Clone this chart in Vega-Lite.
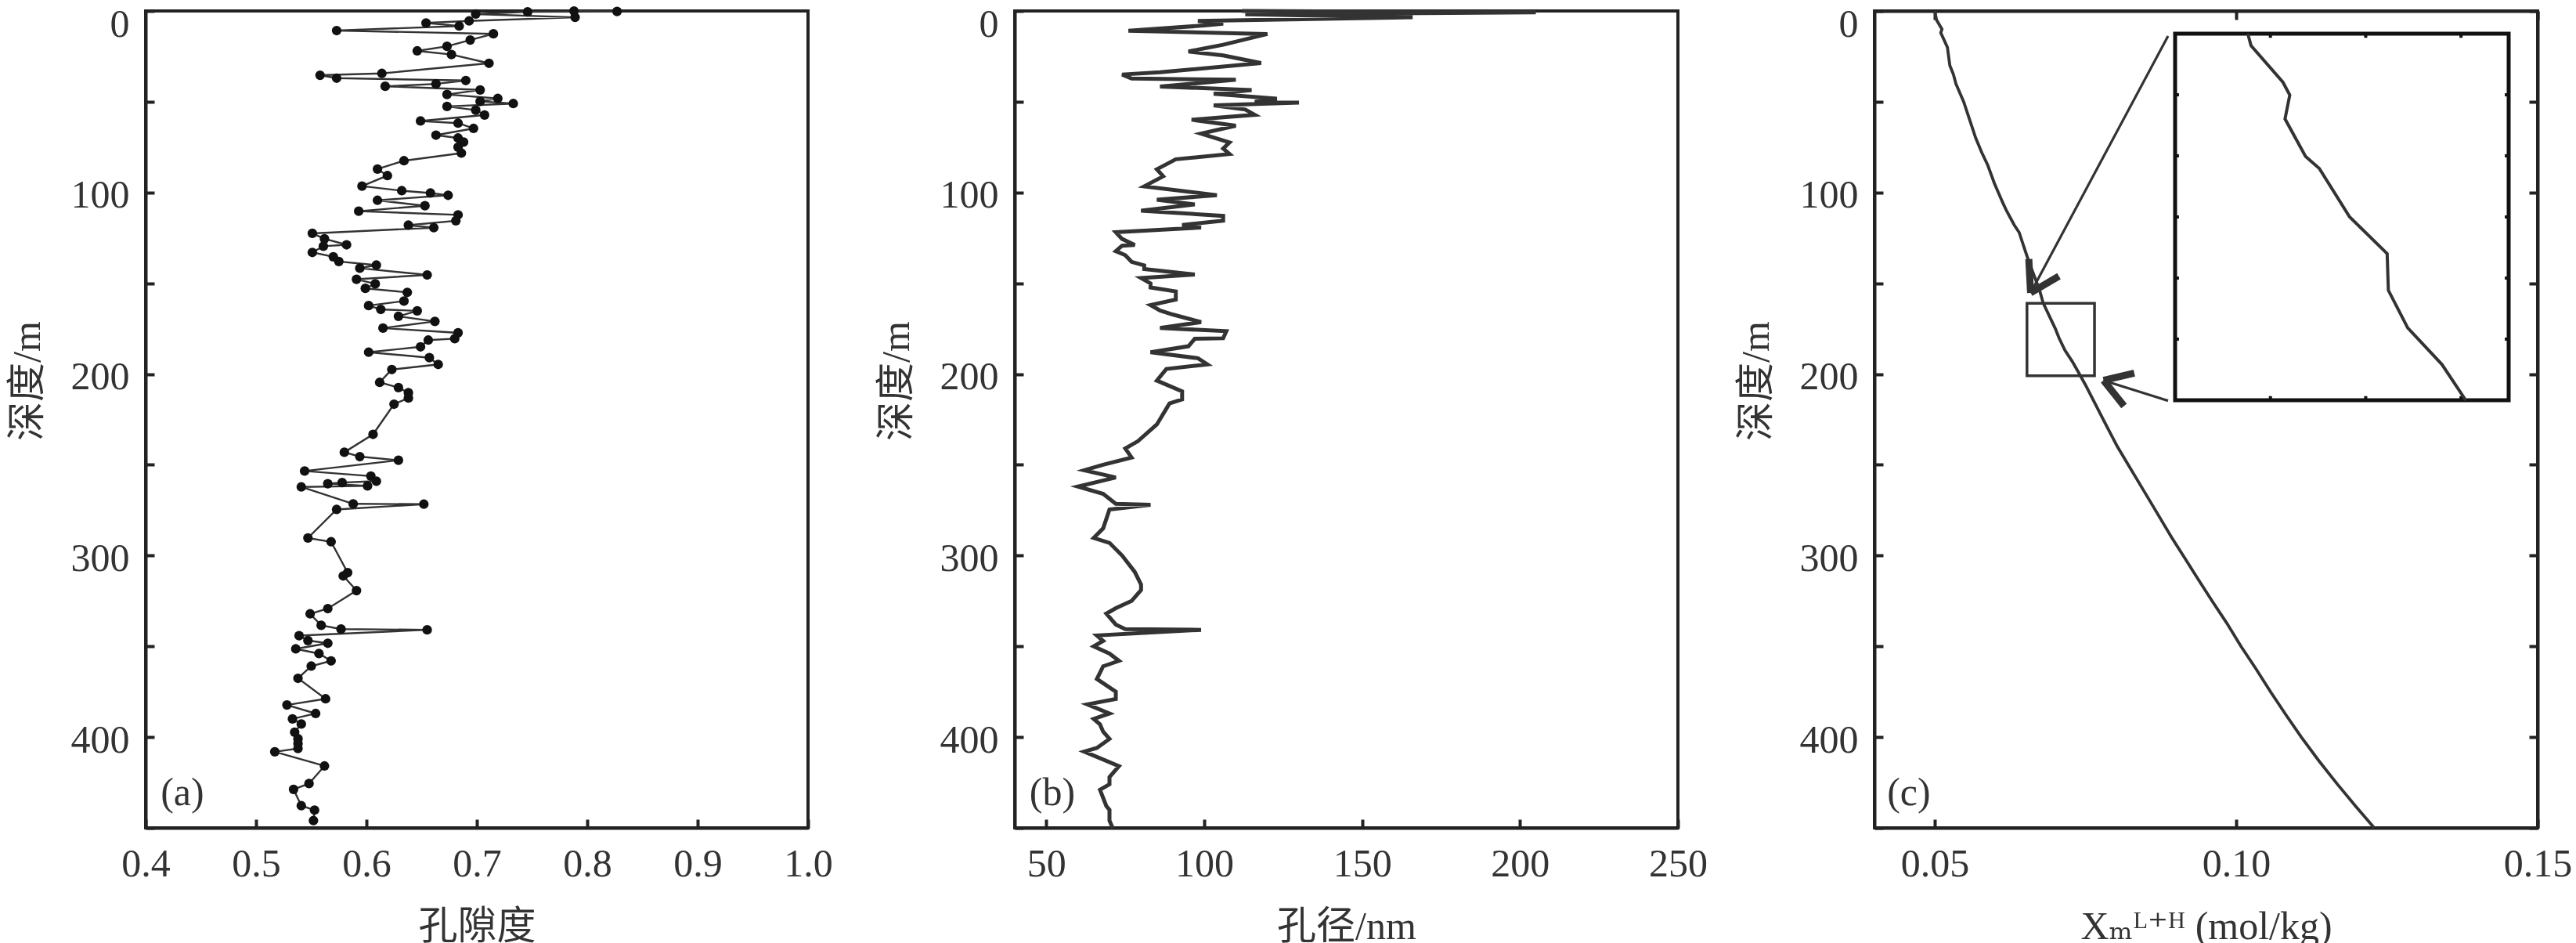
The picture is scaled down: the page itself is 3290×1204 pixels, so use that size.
{
  "$schema": "https://vega.github.io/schema/vega-lite/v6.json",
  "background": "white",
  "padding": {"left": 8, "top": 2, "right": 0, "bottom": 0},
  "datasets": {
    "porosity": [
      {"depth": 0.0, "phi": 0.788}, {"depth": 0.3, "phi": 0.827}, {"depth": 0.5, "phi": 0.746}, {"depth": 1.7, "phi": 0.699},
      {"depth": 3.5, "phi": 0.789}, {"depth": 5.5, "phi": 0.693}, {"depth": 6.6, "phi": 0.654}, {"depth": 8.3, "phi": 0.684},
      {"depth": 10.8, "phi": 0.573}, {"depth": 12.6, "phi": 0.715}, {"depth": 16.0, "phi": 0.694}, {"depth": 19.5, "phi": 0.673},
      {"depth": 22.0, "phi": 0.646}, {"depth": 24.0, "phi": 0.677}, {"depth": 28.8, "phi": 0.711}, {"depth": 34.4, "phi": 0.614},
      {"depth": 35.4, "phi": 0.558}, {"depth": 37.0, "phi": 0.573}, {"depth": 38.3, "phi": 0.690}, {"depth": 40.2, "phi": 0.663},
      {"depth": 41.5, "phi": 0.617}, {"depth": 43.5, "phi": 0.703}, {"depth": 46.0, "phi": 0.673}, {"depth": 48.2, "phi": 0.719},
      {"depth": 49.8, "phi": 0.703}, {"depth": 51.0, "phi": 0.733}, {"depth": 52.6, "phi": 0.673}, {"depth": 54.6, "phi": 0.699},
      {"depth": 57.3, "phi": 0.707}, {"depth": 60.6, "phi": 0.649}, {"depth": 61.8, "phi": 0.683}, {"depth": 64.7, "phi": 0.697},
      {"depth": 68.4, "phi": 0.663}, {"depth": 70.0, "phi": 0.683}, {"depth": 72.2, "phi": 0.688}, {"depth": 75.0, "phi": 0.683},
      {"depth": 78.3, "phi": 0.686}, {"depth": 82.5, "phi": 0.634}, {"depth": 87.1, "phi": 0.610}, {"depth": 90.7, "phi": 0.619},
      {"depth": 96.5, "phi": 0.596}, {"depth": 99.0, "phi": 0.632}, {"depth": 100.3, "phi": 0.658}, {"depth": 101.5, "phi": 0.674},
      {"depth": 104.3, "phi": 0.610}, {"depth": 107.3, "phi": 0.653}, {"depth": 110.3, "phi": 0.593}, {"depth": 112.3, "phi": 0.683},
      {"depth": 115.6, "phi": 0.681}, {"depth": 118.0, "phi": 0.638}, {"depth": 119.4, "phi": 0.661}, {"depth": 122.5, "phi": 0.551},
      {"depth": 125.5, "phi": 0.562}, {"depth": 128.8, "phi": 0.582}, {"depth": 129.6, "phi": 0.561}, {"depth": 133.0, "phi": 0.551},
      {"depth": 135.4, "phi": 0.570}, {"depth": 138.0, "phi": 0.575}, {"depth": 140.0, "phi": 0.609}, {"depth": 141.7, "phi": 0.594},
      {"depth": 145.4, "phi": 0.655}, {"depth": 147.8, "phi": 0.591}, {"depth": 150.3, "phi": 0.608}, {"depth": 152.8, "phi": 0.599},
      {"depth": 155.0, "phi": 0.637}, {"depth": 159.8, "phi": 0.634}, {"depth": 162.3, "phi": 0.602}, {"depth": 164.4, "phi": 0.613},
      {"depth": 165.2, "phi": 0.646}, {"depth": 168.2, "phi": 0.629}, {"depth": 171.0, "phi": 0.662}, {"depth": 174.7, "phi": 0.615},
      {"depth": 177.3, "phi": 0.683}, {"depth": 180.5, "phi": 0.680}, {"depth": 181.3, "phi": 0.656}, {"depth": 185.0, "phi": 0.649},
      {"depth": 188.0, "phi": 0.602}, {"depth": 191.0, "phi": 0.657}, {"depth": 194.7, "phi": 0.665}, {"depth": 197.5, "phi": 0.623},
      {"depth": 204.6, "phi": 0.612}, {"depth": 207.5, "phi": 0.629}, {"depth": 210.3, "phi": 0.638}, {"depth": 213.2, "phi": 0.638},
      {"depth": 216.6, "phi": 0.625}, {"depth": 233.2, "phi": 0.606}, {"depth": 243.1, "phi": 0.580}, {"depth": 245.5, "phi": 0.594},
      {"depth": 247.5, "phi": 0.629}, {"depth": 253.4, "phi": 0.544}, {"depth": 256.2, "phi": 0.604}, {"depth": 259.0, "phi": 0.609},
      {"depth": 259.8, "phi": 0.578}, {"depth": 260.4, "phi": 0.565}, {"depth": 261.6, "phi": 0.601}, {"depth": 262.2, "phi": 0.541},
      {"depth": 271.5, "phi": 0.588}, {"depth": 271.7, "phi": 0.652}, {"depth": 274.6, "phi": 0.573}, {"depth": 290.3, "phi": 0.547},
      {"depth": 292.4, "phi": 0.568}, {"depth": 309.4, "phi": 0.583}, {"depth": 311.2, "phi": 0.579}, {"depth": 319.3, "phi": 0.591},
      {"depth": 329.2, "phi": 0.565}, {"depth": 332.1, "phi": 0.549}, {"depth": 338.4, "phi": 0.559}, {"depth": 340.5, "phi": 0.577},
      {"depth": 340.9, "phi": 0.655}, {"depth": 344.1, "phi": 0.539}, {"depth": 346.8, "phi": 0.547}, {"depth": 348.3, "phi": 0.565},
      {"depth": 351.4, "phi": 0.536}, {"depth": 354.0, "phi": 0.557}, {"depth": 358.0, "phi": 0.568}, {"depth": 360.9, "phi": 0.550},
      {"depth": 367.6, "phi": 0.538}, {"depth": 378.9, "phi": 0.563}, {"depth": 382.3, "phi": 0.528}, {"depth": 387.0, "phi": 0.554},
      {"depth": 390.0, "phi": 0.533}, {"depth": 392.8, "phi": 0.541}, {"depth": 397.3, "phi": 0.535}, {"depth": 400.9, "phi": 0.538},
      {"depth": 403.6, "phi": 0.538}, {"depth": 406.3, "phi": 0.538}, {"depth": 408.1, "phi": 0.517}, {"depth": 415.9, "phi": 0.562},
      {"depth": 425.6, "phi": 0.548}, {"depth": 428.8, "phi": 0.534}, {"depth": 437.8, "phi": 0.541}, {"depth": 440.2, "phi": 0.553},
      {"depth": 446.0, "phi": 0.552}
    ],
    "poresize": [
      {"depth": 0.0, "nm": 112}, {"depth": 0.8, "nm": 205}, {"depth": 1.8, "nm": 113}, {"depth": 3.5, "nm": 166},
      {"depth": 5.5, "nm": 98}, {"depth": 7.0, "nm": 106}, {"depth": 8.0, "nm": 100}, {"depth": 10.9, "nm": 76},
      {"depth": 12.7, "nm": 120}, {"depth": 18.6, "nm": 106}, {"depth": 22.3, "nm": 95}, {"depth": 24.5, "nm": 106},
      {"depth": 28.7, "nm": 118}, {"depth": 33.8, "nm": 86}, {"depth": 35.0, "nm": 74}, {"depth": 37.2, "nm": 77},
      {"depth": 37.9, "nm": 110}, {"depth": 41.6, "nm": 86}, {"depth": 43.6, "nm": 115}, {"depth": 45.6, "nm": 103},
      {"depth": 48.3, "nm": 123}, {"depth": 50.1, "nm": 116}, {"depth": 50.5, "nm": 130}, {"depth": 52.0, "nm": 103},
      {"depth": 54.3, "nm": 113}, {"depth": 57.2, "nm": 116}, {"depth": 59.9, "nm": 96}, {"depth": 63.2, "nm": 110},
      {"depth": 67.6, "nm": 99}, {"depth": 72.4, "nm": 108}, {"depth": 75.8, "nm": 106}, {"depth": 78.8, "nm": 108},
      {"depth": 81.7, "nm": 91}, {"depth": 87.2, "nm": 85}, {"depth": 91.1, "nm": 87}, {"depth": 96.6, "nm": 81},
      {"depth": 101.5, "nm": 104}, {"depth": 104.0, "nm": 85}, {"depth": 106.6, "nm": 97}, {"depth": 110.0, "nm": 80},
      {"depth": 112.9, "nm": 106}, {"depth": 115.5, "nm": 106}, {"depth": 117.9, "nm": 93}, {"depth": 119.3, "nm": 99},
      {"depth": 121.9, "nm": 72}, {"depth": 125.6, "nm": 74}, {"depth": 128.9, "nm": 78}, {"depth": 129.3, "nm": 74},
      {"depth": 132.3, "nm": 72}, {"depth": 134.5, "nm": 75}, {"depth": 138.2, "nm": 77}, {"depth": 140.2, "nm": 81},
      {"depth": 142.2, "nm": 81}, {"depth": 145.2, "nm": 97}, {"depth": 147.1, "nm": 80}, {"depth": 150.1, "nm": 83},
      {"depth": 152.3, "nm": 83}, {"depth": 154.5, "nm": 91}, {"depth": 159.0, "nm": 91}, {"depth": 162.0, "nm": 83},
      {"depth": 165.0, "nm": 86}, {"depth": 167.2, "nm": 90}, {"depth": 171.4, "nm": 99}, {"depth": 174.6, "nm": 86},
      {"depth": 176.4, "nm": 107}, {"depth": 180.3, "nm": 106}, {"depth": 180.6, "nm": 97}, {"depth": 184.7, "nm": 95},
      {"depth": 188.0, "nm": 83}, {"depth": 191.3, "nm": 98}, {"depth": 194.7, "nm": 101}, {"depth": 197.2, "nm": 88},
      {"depth": 203.6, "nm": 85}, {"depth": 209.5, "nm": 93}, {"depth": 214.0, "nm": 93}, {"depth": 216.2, "nm": 89},
      {"depth": 227.8, "nm": 85}, {"depth": 237.0, "nm": 79}, {"depth": 241.0, "nm": 75}, {"depth": 246.0, "nm": 77},
      {"depth": 250.0, "nm": 68}, {"depth": 253.0, "nm": 62}, {"depth": 257.0, "nm": 72}, {"depth": 262.0, "nm": 60},
      {"depth": 266.0, "nm": 68}, {"depth": 271.5, "nm": 72}, {"depth": 272.0, "nm": 83}, {"depth": 274.6, "nm": 70},
      {"depth": 285.0, "nm": 68}, {"depth": 290.3, "nm": 65}, {"depth": 293.0, "nm": 70}, {"depth": 300.0, "nm": 74},
      {"depth": 309.0, "nm": 78}, {"depth": 316.0, "nm": 80}, {"depth": 319.0, "nm": 80}, {"depth": 325.0, "nm": 77},
      {"depth": 329.0, "nm": 72}, {"depth": 332.0, "nm": 69}, {"depth": 338.0, "nm": 72}, {"depth": 340.5, "nm": 75},
      {"depth": 340.9, "nm": 99}, {"depth": 344.0, "nm": 66}, {"depth": 347.0, "nm": 68}, {"depth": 350.0, "nm": 65},
      {"depth": 354.0, "nm": 70}, {"depth": 358.0, "nm": 73}, {"depth": 361.0, "nm": 68}, {"depth": 368.0, "nm": 66},
      {"depth": 375.0, "nm": 72}, {"depth": 379.0, "nm": 72}, {"depth": 382.0, "nm": 63}, {"depth": 387.0, "nm": 70},
      {"depth": 390.0, "nm": 65}, {"depth": 393.0, "nm": 67}, {"depth": 397.0, "nm": 68}, {"depth": 401.0, "nm": 70},
      {"depth": 406.0, "nm": 66}, {"depth": 408.0, "nm": 62}, {"depth": 416.0, "nm": 73}, {"depth": 422.0, "nm": 70},
      {"depth": 426.0, "nm": 70}, {"depth": 429.0, "nm": 67}, {"depth": 438.0, "nm": 69}, {"depth": 440.0, "nm": 70},
      {"depth": 446.0, "nm": 70}, {"depth": 450.0, "nm": 71}
    ],
    "xm": [
      {"depth": 0, "X": 0.0500}, {"depth": 5, "X": 0.0503}, {"depth": 10, "X": 0.0512}, {"depth": 12, "X": 0.0510},
      {"depth": 20, "X": 0.0521}, {"depth": 30, "X": 0.0525}, {"depth": 35, "X": 0.0531}, {"depth": 40, "X": 0.0535},
      {"depth": 50, "X": 0.0548}, {"depth": 60, "X": 0.0558}, {"depth": 70, "X": 0.0568}, {"depth": 78, "X": 0.0578},
      {"depth": 85, "X": 0.0588}, {"depth": 95, "X": 0.0599}, {"depth": 105, "X": 0.0612}, {"depth": 110, "X": 0.0619},
      {"depth": 118, "X": 0.0632}, {"depth": 122, "X": 0.0640}, {"depth": 130, "X": 0.0648}, {"depth": 138, "X": 0.0656},
      {"depth": 145, "X": 0.0664}, {"depth": 154, "X": 0.0674}, {"depth": 161, "X": 0.0680}, {"depth": 168, "X": 0.0690},
      {"depth": 175, "X": 0.0700}, {"depth": 180, "X": 0.0706}, {"depth": 187, "X": 0.0716}, {"depth": 193, "X": 0.0728},
      {"depth": 200, "X": 0.0740}, {"depth": 206, "X": 0.0750}, {"depth": 215, "X": 0.0764}, {"depth": 228, "X": 0.0784},
      {"depth": 240, "X": 0.0803}, {"depth": 250, "X": 0.0821}, {"depth": 260, "X": 0.0839}, {"depth": 275, "X": 0.0866},
      {"depth": 290, "X": 0.0893}, {"depth": 300, "X": 0.0912}, {"depth": 312, "X": 0.0935}, {"depth": 325, "X": 0.0960},
      {"depth": 337, "X": 0.0984}, {"depth": 350, "X": 0.1008}, {"depth": 362, "X": 0.1032}, {"depth": 375, "X": 0.1057},
      {"depth": 388, "X": 0.1083}, {"depth": 400, "X": 0.1108}, {"depth": 413, "X": 0.1137}, {"depth": 426, "X": 0.1168},
      {"depth": 438, "X": 0.1198}, {"depth": 450, "X": 0.1229}
    ],
    "xm_zoom": [
      {"depth": 161.0, "X": 0.06774}, {"depth": 162.3, "X": 0.06785}, {"depth": 166.3, "X": 0.06892}, {"depth": 167.7, "X": 0.06915},
      {"depth": 170.3, "X": 0.06899}, {"depth": 174.4, "X": 0.06968}, {"depth": 175.7, "X": 0.07014}, {"depth": 181.0, "X": 0.07116},
      {"depth": 185.0, "X": 0.07242}, {"depth": 189.0, "X": 0.07246}, {"depth": 193.1, "X": 0.07311}, {"depth": 197.1, "X": 0.07426},
      {"depth": 201.0, "X": 0.07506}
    ],
    "zoombox": [{"x": 0.0653, "x2": 0.0765, "y": 161, "y2": 201}],
    "leaders": [
      {"x": 0.0887, "y": 13.8, "x2": 0.0659, "y2": 155.3},
      {"x": 0.0887, "y": 214.7, "x2": 0.0780, "y2": 203.5}
    ],
    "arrowheads": [
      {"x": 0.0659, "y": 155.3, "x2": 0.0656, "y2": 136.7},
      {"x": 0.0659, "y": 155.3, "x2": 0.0706, "y2": 146.1},
      {"x": 0.0780, "y": 203.5, "x2": 0.0831, "y2": 199.5},
      {"x": 0.0780, "y": 203.5, "x2": 0.0814, "y2": 217.6}
    ],
    "inset_ticks": [
      {"x": 0.0685, "x2": 0.0685, "y": 161, "y2": 161.45},
      {"x": 0.0717, "x2": 0.0717, "y": 161, "y2": 161.45},
      {"x": 0.0749, "x2": 0.0749, "y": 161, "y2": 161.45},
      {"x": 0.0685, "x2": 0.0685, "y": 200.55, "y2": 201},
      {"x": 0.0717, "x2": 0.0717, "y": 200.55, "y2": 201},
      {"x": 0.0749, "x2": 0.0749, "y": 200.55, "y2": 201},
      {"x": 0.0653, "x2": 0.06543, "y": 167.67, "y2": 167.67},
      {"x": 0.0653, "x2": 0.06543, "y": 174.33, "y2": 174.33},
      {"x": 0.0653, "x2": 0.06543, "y": 181.0, "y2": 181.0},
      {"x": 0.0653, "x2": 0.06543, "y": 187.67, "y2": 187.67},
      {"x": 0.0653, "x2": 0.06543, "y": 194.33, "y2": 194.33},
      {"x": 0.07637, "x2": 0.0765, "y": 167.67, "y2": 167.67},
      {"x": 0.07637, "x2": 0.0765, "y": 174.33, "y2": 174.33},
      {"x": 0.07637, "x2": 0.0765, "y": 181.0, "y2": 181.0},
      {"x": 0.07637, "x2": 0.0765, "y": 187.67, "y2": 187.67},
      {"x": 0.07637, "x2": 0.0765, "y": 194.33, "y2": 194.33}
    ]
  },
  "spacing": 264,
  "bounds": "flush",
  "hconcat": [
    {
      "width": 846,
      "height": 1043,
      "data": {"name": "porosity"},
      "layer": [
        {
          "mark": {"type": "line", "color": "#333", "strokeWidth": 2.4},
          "encoding": {
            "x": {"field": "phi", "type": "quantitative",
                  "scale": {"domain": [0.4, 1.0], "nice": false, "zero": false},
                  "axis": {"values": [0.4, 0.5, 0.6, 0.7, 0.8, 0.9, 1.0], "format": ".1f", "title": "孔隙度"}},
            "y": {"field": "depth", "type": "quantitative",
                  "scale": {"domain": [0, 450], "reverse": true, "nice": false, "zero": false},
                  "axis": {"values": [0, 50, 100, 150, 200, 250, 300, 350, 400, 450],
                           "labelExpr": "datum.value % 100 === 0 ? datum.label : ''",
                           "title": "深度/m", "titleY": 472}},
            "order": {"field": "depth", "type": "quantitative"}
          }
        },
        {
          "mark": {"type": "circle", "color": "#111", "size": 150, "opacity": 1},
          "encoding": {
            "x": {"field": "phi", "type": "quantitative"},
            "y": {"field": "depth", "type": "quantitative"}
          }
        },
        {
          "data": {"values": [{"t": "(a)"}]},
          "mark": {"type": "text", "fontSize": 50, "font": "Liberation Serif", "color": "#333", "align": "center", "baseline": "middle"},
          "encoding": {
            "x": {"datum": 0.4333, "type": "quantitative"},
            "y": {"datum": 431, "type": "quantitative"},
            "text": {"field": "t"}
          }
        }
      ]
    },
    {
      "spacing": 251,
      "bounds": "flush",
      "hconcat": [
        {
          "width": 847,
          "height": 1043,
          "layer": [
            {
              "data": {"name": "poresize"},
              "mark": {"type": "line", "color": "#333", "strokeWidth": 5, "strokeJoin": "miter"},
              "encoding": {
                "x": {"field": "nm", "type": "quantitative",
                      "scale": {"domain": [40, 250], "nice": false, "zero": false},
                      "axis": {"values": [50, 100, 150, 200, 250], "title": "孔径/nm"}},
                "y": {"field": "depth", "type": "quantitative",
                      "scale": {"domain": [0, 450], "reverse": true, "nice": false, "zero": false},
                      "axis": {"values": [0, 50, 100, 150, 200, 250, 300, 350, 400, 450],
                               "labelExpr": "datum.value % 100 === 0 ? datum.label : ''",
                               "title": "深度/m", "titleY": 472}},
                "order": {"field": "depth", "type": "quantitative"}
              }
            },
            {
              "data": {"values": [{"t": "(b)"}]},
              "mark": {"type": "text", "fontSize": 50, "font": "Liberation Serif", "color": "#333", "align": "center", "baseline": "middle"},
              "encoding": {
                "x": {"datum": 51.9, "type": "quantitative"},
                "y": {"datum": 431, "type": "quantitative"},
                "text": {"field": "t"}
              }
            }
          ]
        },
        {
          "width": 847,
          "height": 1043,
          "resolve": {"scale": {"x": "independent", "y": "independent"}},
          "layer": [
            {
              "resolve": {"axis": {"x": "independent", "y": "independent"}},
              "layer": [
                {
                  "data": {"name": "xm"},
                  "mark": {"type": "line", "color": "#333", "strokeWidth": 3.8},
                  "encoding": {
                    "x": {"field": "X", "type": "quantitative",
                          "scale": {"domain": [0.04, 0.15], "nice": false, "zero": false},
                          "axis": {"values": [0.05, 0.10, 0.15], "format": ".2f", "title": "Xₘᴸ⁺ᴴ (mol/kg)"}},
                    "y": {"field": "depth", "type": "quantitative",
                          "scale": {"domain": [0, 450], "reverse": true, "nice": false, "zero": false},
                          "axis": {"values": [0, 50, 100, 150, 200, 250, 300, 350, 400, 450],
                                   "labelExpr": "datum.value % 100 === 0 ? datum.label : ''",
                                   "title": "深度/m", "titleY": 472}},
                    "order": {"field": "depth", "type": "quantitative"}
                  }
                },
                {
                  "data": {"name": "zoombox"},
                  "mark": {"type": "rect", "fillOpacity": 0, "stroke": "#333", "strokeWidth": 3.5},
                  "encoding": {
                    "x": {"field": "x", "type": "quantitative",
                          "scale": {"domain": [0.04, 0.15], "nice": false, "zero": false},
                          "axis": {"orient": "top", "values": [0.05, 0.10, 0.15], "labels": false, "title": null}},
                    "x2": {"field": "x2"},
                    "y": {"field": "y", "type": "quantitative",
                          "scale": {"domain": [0, 450], "reverse": true, "nice": false, "zero": false},
                          "axis": {"orient": "right", "values": [0, 50, 100, 150, 200, 250, 300, 350, 400, 450], "labels": false, "title": null}},
                    "y2": {"field": "y2"}
                  }
                },
                {
                  "data": {"name": "leaders"},
                  "mark": {"type": "rule", "color": "#333", "strokeWidth": 3.2},
                  "encoding": {
                    "x": {"field": "x", "type": "quantitative", "axis": null},
                    "x2": {"field": "x2"},
                    "y": {"field": "y", "type": "quantitative", "axis": null},
                    "y2": {"field": "y2"}
                  }
                },
                {
                  "data": {"name": "arrowheads"},
                  "mark": {"type": "rule", "color": "#333", "strokeWidth": 9, "strokeCap": "butt"},
                  "encoding": {
                    "x": {"field": "x", "type": "quantitative", "axis": null},
                    "x2": {"field": "x2"},
                    "y": {"field": "y", "type": "quantitative", "axis": null},
                    "y2": {"field": "y2"}
                  }
                },
                {
                  "data": {"values": [{"t": "(c)"}]},
                  "mark": {"type": "text", "fontSize": 50, "font": "Liberation Serif", "color": "#333", "align": "center", "baseline": "middle"},
                  "encoding": {
                    "x": {"datum": 0.0457, "type": "quantitative", "axis": null},
                    "y": {"datum": 431, "type": "quantitative", "axis": null},
                    "text": {"field": "t"}
                  }
                }
              ]
            },
            {
              "layer": [
                {
                  "data": {"name": "zoombox"},
                  "mark": {"type": "rect", "fill": "white", "stroke": "#111", "strokeWidth": 5},
                  "encoding": {
                    "x": {"field": "x", "type": "quantitative",
                          "scale": {"domain": [0.0653, 0.0765], "range": [384, 810], "nice": false, "zero": false}, "axis": null},
                    "x2": {"field": "x2"},
                    "y": {"field": "y", "type": "quantitative",
                          "scale": {"domain": [161, 201], "range": [29, 497], "nice": false, "zero": false}, "axis": null},
                    "y2": {"field": "y2"}
                  }
                },
                {
                  "data": {"name": "inset_ticks"},
                  "mark": {"type": "rule", "color": "#111", "strokeWidth": 4},
                  "encoding": {
                    "x": {"field": "x", "type": "quantitative",
                          "scale": {"domain": [0.0653, 0.0765], "range": [384, 810], "nice": false, "zero": false}, "axis": null},
                    "x2": {"field": "x2"},
                    "y": {"field": "y", "type": "quantitative",
                          "scale": {"domain": [161, 201], "range": [29, 497], "nice": false, "zero": false}, "axis": null},
                    "y2": {"field": "y2"}
                  }
                },
                {
                  "data": {"name": "xm_zoom"},
                  "mark": {"type": "line", "color": "#333", "strokeWidth": 4},
                  "encoding": {
                    "x": {"field": "X", "type": "quantitative",
                          "scale": {"domain": [0.0653, 0.0765], "range": [384, 810], "nice": false, "zero": false}, "axis": null},
                    "y": {"field": "depth", "type": "quantitative",
                          "scale": {"domain": [161, 201], "range": [29, 497], "nice": false, "zero": false}, "axis": null},
                    "order": {"field": "depth", "type": "quantitative"}
                  }
                }
              ]
            }
          ]
        }
      ]
    }
  ],
  "config": {
    "font": "Liberation Serif",
    "view": {"stroke": "#222", "strokeWidth": 4},
    "axis": {
      "grid": false,
      "labelFont": "Liberation Serif",
      "labelFontSize": 50,
      "labelColor": "#333",
      "labelPadding": 32,
      "labelFlush": false,
      "labelOverlap": false,
      "titleFont": "Liberation Serif, DejaVu Serif, Noto Sans CJK SC",
      "titleFontSize": 50,
      "titleFontWeight": "normal",
      "titleColor": "#333",
      "titlePadding": 30,
      "domainColor": "#222",
      "domainWidth": 4,
      "tickColor": "#222",
      "tickWidth": 4,
      "tickSize": -11
    },
    "axisY": {
      "labelFlush": true,
      "labelFlushOffset": 12,
      "labelOffset": 4
    }
  }
}
